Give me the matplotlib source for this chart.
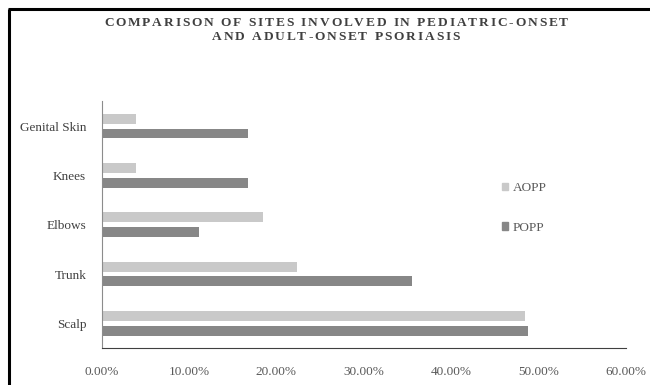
import numpy as np
import matplotlib
matplotlib.use("Agg")
import matplotlib.pyplot as plt
from matplotlib.lines import Line2D
from matplotlib.patches import Patch
from matplotlib.ticker import FuncFormatter
from matplotlib.textpath import TextToPath
from matplotlib.font_manager import FontProperties

# === Data (bottom to top) ===
sites = ["Scalp", "Trunk", "Elbows", "Knees", "Genital Skin"]
aopp = [0.485, 0.224, 0.185, 0.039, 0.039]
popp = [0.488, 0.355, 0.112, 0.168, 0.168]
xticks = [0.0, 0.1, 0.2, 0.3, 0.4, 0.5, 0.6]
title_lines = ["COMPARISON OF SITES INVOLVED IN PEDIATRIC-ONSET",
               "AND ADULT-ONSET PSORIASIS"]

SERIF = ["Liberation Serif", "DejaVu Serif"]
W, H, DPI = 650, 385, 100

fig = plt.figure(figsize=(W / DPI, H / DPI), dpi=DPI)
ax = fig.add_axes([101.5 / W, 37 / H, 524.5 / W, 246.6 / H])

# === Bars ===
y = np.arange(len(sites))
ax.barh(y + 0.15, aopp, height=0.2, color="#c9c9c9", label="AOPP")
ax.barh(y - 0.15, popp, height=0.2, color="#878787", label="POPP")

ax.set_xlim(0, 0.6)
ax.set_ylim(-0.5, len(sites) - 0.5)
ax.set_xticks(xticks)
ax.xaxis.set_major_formatter(FuncFormatter(lambda v, p: f"{v * 100:.2f}%"))
ax.set_yticks(y)
ax.set_yticklabels(sites)
ax.tick_params(length=0)
ax.tick_params(axis="x", pad=13, labelsize=9.5, labelcolor="#595959")
ax.tick_params(axis="y", pad=11, labelsize=9.5, labelcolor="#404040")
for lab in ax.get_xticklabels() + ax.get_yticklabels():
    lab.set_family(SERIF)

for s in ["top", "right"]:
    ax.spines[s].set_visible(False)
ax.spines["left"].set_color("#8c8c8c")
ax.spines["bottom"].set_color("#404040")

# === Legend ===
handles = [Patch(color="#c9c9c9"), Patch(color="#878787")]
leg = fig.legend(handles, ["AOPP", "POPP"], loc="center left",
                 bbox_to_anchor=(490 / W, 1 - 208 / H), frameon=False,
                 handlelength=0.5, handleheight=0.5, handletextpad=0.3,
                 labelspacing=2.1, prop={"family": SERIF, "size": 9.5})
for t in leg.get_texts():
    t.set_color("#595959")

# === Title with letter spacing ===
ttp = TextToPath()
def spaced_line(text, ypix, size=9.6, track=1.9, cx=336):
    fp = FontProperties(family=SERIF, weight="bold", size=size)
    widths = [ttp.get_text_width_height_descent(c, fp, ismath=False)[0] * DPI / 72 for c in text]
    total = sum(widths) + track * (len(text) - 1)
    x = cx - total / 2
    for c, w in zip(text, widths):
        fig.text(x / W, 1 - ypix / H, c, fontproperties=fp, color="#404040",
                 ha="left", va="center")
        x += w + track

spaced_line(title_lines[0], 23)
spaced_line(title_lines[1], 37)

# === Frame (left and top edges) ===
fig.add_artist(Line2D([8.5 / W, 8.5 / W], [0, 1 - 9 / H], color="black", lw=2.2,
                      transform=fig.transFigure, solid_capstyle="butt"))
fig.add_artist(Line2D([7.5 / W, 1], [1 - 9 / H, 1 - 9 / H], color="black", lw=2.2,
                      transform=fig.transFigure, solid_capstyle="butt"))

fig.savefig("out.png", dpi=DPI)
